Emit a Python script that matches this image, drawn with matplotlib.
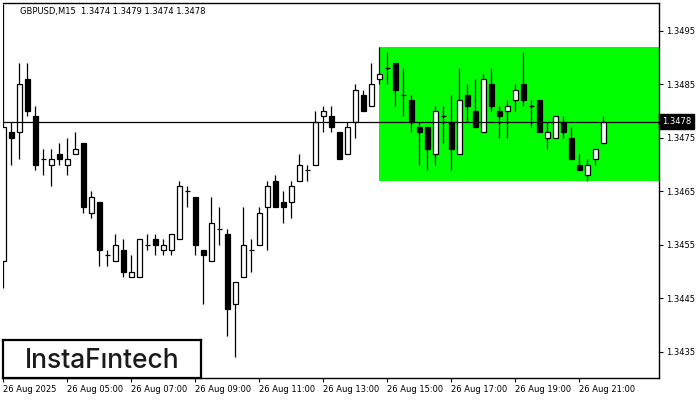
import matplotlib
matplotlib.use("Agg")
import matplotlib.pyplot as plt
from matplotlib.patches import Rectangle
from matplotlib.transforms import blended_transform_factory
import numpy as np

# GBPUSD M15 candles, 26 Aug 03:00 .. 21:45
opens = [1.3452, 1.3476, 1.3476, 1.3486, 1.3479, 1.3471, 1.3470, 1.3472, 1.3470, 1.3472,
         1.3474, 1.3461, 1.3463, 1.3453, 1.3452, 1.3454, 1.3449, 1.3449, 1.3455, 1.3456,
         1.3454, 1.3454, 1.3456, 1.3465, 1.3464, 1.3454, 1.3452, 1.3458, 1.3457, 1.3444,
         1.3449, 1.3454, 1.3455, 1.3462, 1.3467, 1.3463, 1.3463, 1.3467, 1.3469, 1.3470,
         1.3479, 1.3479, 1.3476, 1.3472, 1.3478, 1.3483, 1.3481, 1.3486, 1.3488, 1.3489,
         1.3483, 1.3482, 1.3477, 1.3477, 1.3472, 1.3479, 1.3478, 1.3472, 1.3483, 1.3480,
         1.3476, 1.3485, 1.3480, 1.3480, 1.3482, 1.3485, 1.3481, 1.3482, 1.3475, 1.3475,
         1.3478, 1.3475, 1.3470, 1.3468, 1.3471, 1.3474]
highs = [1.3500, 1.3478, 1.3489, 1.3489, 1.3481, 1.3473, 1.3473, 1.3474, 1.3475, 1.3476,
         1.3474, 1.3465, 1.3463, 1.3454, 1.3457, 1.3456, 1.3453, 1.3456, 1.3457, 1.3457,
         1.3456, 1.3457, 1.3467, 1.3466, 1.3464, 1.3454, 1.3464, 1.3462, 1.3458, 1.3448,
         1.3462, 1.3456, 1.3462, 1.3467, 1.3468, 1.3465, 1.3467, 1.3472, 1.3470, 1.3480,
         1.3481, 1.3481, 1.3476, 1.3478, 1.3485, 1.3484, 1.3489, 1.3492, 1.3491, 1.3489,
         1.3488, 1.3483, 1.3478, 1.3477, 1.3481, 1.3481, 1.3483, 1.3488, 1.3485, 1.3486,
         1.3487, 1.3488, 1.3481, 1.3482, 1.3485, 1.3491, 1.3482, 1.3482, 1.3478, 1.3479,
         1.3479, 1.3477, 1.3472, 1.3471, 1.3473, 1.3479]
lows = [1.3447, 1.3470, 1.3471, 1.3479, 1.3469, 1.3468, 1.3466, 1.3470, 1.3468, 1.3472,
        1.3461, 1.3460, 1.3451, 1.3451, 1.3452, 1.3449, 1.3449, 1.3449, 1.3454, 1.3453,
        1.3453, 1.3453, 1.3456, 1.3462, 1.3453, 1.3444, 1.3452, 1.3455, 1.3438, 1.3434,
        1.3449, 1.3450, 1.3455, 1.3454, 1.3462, 1.3459, 1.3460, 1.3467, 1.3467, 1.3470,
        1.3476, 1.3476, 1.3471, 1.3472, 1.3475, 1.3480, 1.3481, 1.3485, 1.3485, 1.3481,
        1.3479, 1.3476, 1.3470, 1.3469, 1.3470, 1.3474, 1.3469, 1.3472, 1.3478, 1.3477,
        1.3476, 1.3480, 1.3475, 1.3475, 1.3480, 1.3481, 1.3477, 1.3476, 1.3473, 1.3475,
        1.3475, 1.3471, 1.3469, 1.3467, 1.3470, 1.3474]
closes = [1.3477, 1.3475, 1.3485, 1.3480, 1.3470, 1.3471, 1.3471, 1.3471, 1.3471, 1.3473,
          1.3462, 1.3464, 1.3454, 1.3453, 1.3455, 1.3450, 1.3450, 1.3456, 1.3455, 1.3455,
          1.3455, 1.3457, 1.3466, 1.3465, 1.3455, 1.3453, 1.3459, 1.3458, 1.3443, 1.3448,
          1.3455, 1.3454, 1.3461, 1.3466, 1.3462, 1.3462, 1.3466, 1.3470, 1.3469, 1.3478,
          1.3480, 1.3477, 1.3471, 1.3477, 1.3484, 1.3480, 1.3485, 1.3487, 1.3488, 1.3484,
          1.3483, 1.3478, 1.3476, 1.3473, 1.3480, 1.3479, 1.3473, 1.3482, 1.3481, 1.3477,
          1.3486, 1.3481, 1.3479, 1.3481, 1.3484, 1.3482, 1.3481, 1.3476, 1.3476, 1.3479,
          1.3476, 1.3471, 1.3469, 1.3470, 1.3473, 1.3478]

xtick_pos = [0, 8, 16, 24, 32, 40, 48, 56, 64, 72]
xtick_labels = ["26 Aug 2025", "26 Aug 05:00", "26 Aug 07:00", "26 Aug 09:00",
                "26 Aug 11:00", "26 Aug 13:00", "26 Aug 15:00", "26 Aug 17:00",
                "26 Aug 19:00", "26 Aug 21:00"]
yticks = [1.3435, 1.3445, 1.3455, 1.3465, 1.3475, 1.3485, 1.3495]

rect_start = 47
rect_top = 1.3492
rect_bottom = 1.3467
last_price = 1.3478
title = "GBPUSD,M15  1.3474 1.3479 1.3474 1.3478"

plt.rcParams["font.family"] = ["DejaVu Sans"]

fig = plt.figure(figsize=(7, 4), dpi=100)
ax = fig.add_axes([2.5 / 700, 22 / 400, 656.5 / 700, 375 / 400])

o = np.array(opens)
h = np.array(highs)
l = np.array(lows)
c = np.array(closes)
x = np.arange(len(o))

xmax = 81.94
ax.add_patch(Rectangle((rect_start - 0.06, rect_bottom), xmax - rect_start + 0.1,
                       rect_top - rect_bottom, facecolor="#00ff00", edgecolor="none", zorder=1))

ax.vlines(x, l, h, color="black", lw=0.9, zorder=2)
bull = c >= o
ax.bar(x, np.abs(c - o), bottom=np.minimum(o, c), width=0.6,
       color=np.where(bull, "white", "black"), edgecolor="black", lw=0.9, zorder=3)

ax.axhline(last_price, color="black", lw=0.9, zorder=4)

ax.set_xlim(-0.125, xmax)
ax.set_ylim(1.34301, 1.35002)

ax.spines["left"].set_visible(False)
for s in ("top", "right", "bottom"):
    ax.spines[s].set_linewidth(1.0)

ax.yaxis.tick_right()
ax.set_yticks(yticks)
ax.set_yticklabels([f"{v:.4f}" for v in yticks])
ax.set_xticks(xtick_pos)
ax.set_xticklabels(xtick_labels)
ax.tick_params(axis="both", labelsize=6, length=3, width=0.8, pad=2, colors="black")
for lab in ax.get_xticklabels():
    lab.set_horizontalalignment("left")

trans = blended_transform_factory(ax.transAxes, ax.transData)
ax.text(1.004, last_price, f"{last_price:.4f}", transform=trans, fontsize=6,
        color="white", va="center", ha="left", zorder=6,
        bbox=dict(boxstyle="square,pad=0.35", facecolor="black", edgecolor="black"))

ax.text(18 / 656.5, 0.977, title, transform=ax.transAxes, fontsize=6,
        va="center", ha="left", color="black")

# logo box
lax = fig.add_axes([3 / 700, 22 / 400, 198 / 700, 38 / 400], zorder=5)
lax.set_xticks([])
lax.set_yticks([])
lax.set_facecolor("white")
for s in lax.spines.values():
    s.set_linewidth(1.6)
lax.text(0.5, 0.26, "InstaF\u0131ntech", fontsize=19, family=["Inter", "Lato", "DejaVu Sans"],
         fontweight="medium", color="#1a1a1a", ha="center", va="baseline",
         transform=lax.transAxes)

fig.savefig("out.png", dpi=100)
